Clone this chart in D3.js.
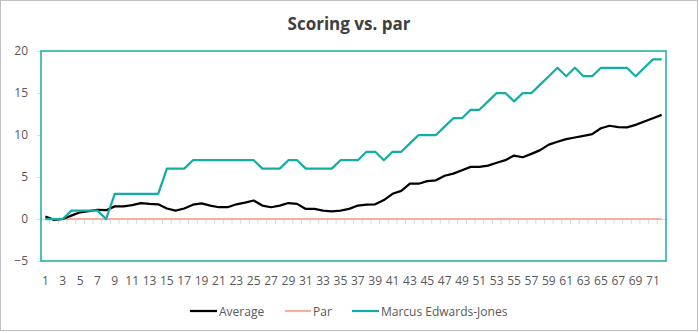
<!DOCTYPE html>
<html><head><meta charset="utf-8">
<script src="https://cdn.jsdelivr.net/npm/d3@7"></script>
<style>
body{margin:0;background:#fff;}
svg{display:block;font-family:"Open Sans","Noto Sans",sans-serif;}
</style></head>
<body><svg id="c" width="699" height="333"></svg>
<script>
const holes = d3.range(1, 73);
const average = [0.3,-0.1,0.0,0.4,0.8,0.95,1.1,1.05,1.5,1.5,1.65,1.9,1.8,1.75,1.25,1.0,1.25,1.7,1.85,1.6,1.4,1.4,1.75,1.95,2.2,1.6,1.4,1.6,1.9,1.8,1.2,1.2,1.0,0.9,1.0,1.2,1.6,1.7,1.75,2.25,3.0,3.35,4.2,4.2,4.5,4.6,5.15,5.4,5.8,6.2,6.2,6.35,6.7,7.0,7.55,7.35,7.75,8.2,8.85,9.2,9.5,9.7,9.9,10.1,10.8,11.1,10.95,10.9,11.2,11.6,12.0,12.4];
const par = holes.map(() => 0);
const marcus = [0,0,0,1,1,1,1,0,3,3,3,3,3,3,6,6,6,7,7,7,7,7,7,7,7,6,6,6,7,7,6,6,6,6,7,7,7,8,8,7,8,8,9,10,10,10,11,12,12,13,13,14,15,15,14,15,15,16,17,18,17,18,17,17,18,18,18,18,17,18,19,19];
const yTicks = [-5,0,5,10,15,20];
const seriesNames = ["Average","Par","Marcus Edwards-Jones"];
const colors = ["#000000","#f4b09c","#14ada5"];

const svg = d3.select("#c");
svg.append("rect").attr("x",0.5).attr("y",0.5).attr("width",697).attr("height",330)
  .attr("fill","#fff").attr("stroke","#bfbfbf");

const L=41,R=666,T=51,B=261;
const x = d3.scaleBand().domain(holes).range([L,R]);
const y = d3.scaleLinear().domain([-5,20]).range([B,T]);

svg.append("text").attr("x",349).attr("y",30).attr("text-anchor","middle")
  .attr("font-size",17).attr("font-weight",700).attr("fill","#404040").text("Scoring vs. par");

const ya = svg.append("g").attr("transform",`translate(${L},0)`)
  .call(d3.axisLeft(y).tickValues(yTicks).tickSize(4).tickPadding(9));
ya.select(".domain").remove();
ya.selectAll("line").attr("stroke","#d9d9d9");
ya.selectAll("text").attr("font-size",12).attr("fill","#595959").attr("font-family","Open Sans,Noto Sans,sans-serif");

const xa = svg.append("g").attr("transform",`translate(0,${y(0)})`)
  .call(d3.axisBottom(x).tickValues([]).tickSize(0));
xa.select(".domain").attr("stroke","#d9d9d9");
svg.append("g").selectAll("line").data(d3.range(0,73)).join("line")
  .attr("x1",d=>L+d*x.step()).attr("x2",d=>L+d*x.step())
  .attr("y1",y(0)).attr("y2",y(0)+5).attr("stroke","#d9d9d9");
svg.append("g").selectAll("text").data(holes.filter(h=>h%2===1)).join("text")
  .attr("x",d=>x(d)+x.bandwidth()/2).attr("y",B+24).attr("text-anchor","middle")
  .attr("font-size",12).attr("fill","#595959").text(d=>d);

const line = d3.line().x((d,i)=>x(holes[i])+x.bandwidth()/2).y(d=>y(d));
svg.append("path").datum(par).attr("d",line).attr("fill","none").attr("stroke",colors[1]).attr("stroke-width",2);
svg.append("path").datum(average).attr("d",line).attr("fill","none").attr("stroke",colors[0]).attr("stroke-width",2.25).attr("stroke-linejoin","round");
svg.append("path").datum(marcus).attr("d",line).attr("fill","none").attr("stroke",colors[2]).attr("stroke-width",2.25).attr("stroke-linejoin","round");

svg.append("rect").attr("x",L).attr("y",T).attr("width",R-L).attr("height",B-T)
  .attr("fill","none").attr("stroke","#14ada5").attr("stroke-width",1.5);

const leg = [{x:190,tx:219},{x:285,tx:313},{x:352,tx:381}];
seriesNames.forEach((n,i)=>{
  svg.append("line").attr("x1",leg[i].x).attr("x2",leg[i].tx-2).attr("y1",311).attr("y2",311)
    .attr("stroke",colors[i]).attr("stroke-width",2.25);
  svg.append("text").attr("x",leg[i].tx).attr("y",315.5).attr("font-size",12).attr("fill","#595959").text(n);
});
</script></body></html>
